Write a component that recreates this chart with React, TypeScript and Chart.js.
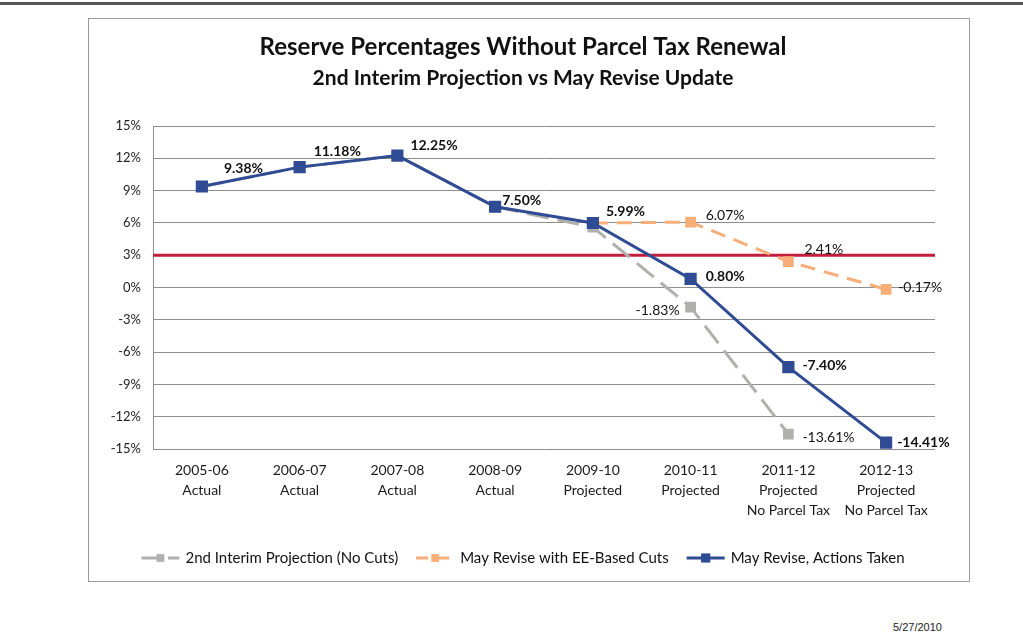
import React, { useEffect, useRef } from "react";
import { Chart, registerables } from "chart.js";

Chart.register(...registerables);

const categories: string[][] = [
  ["2005-06", "Actual"],
  ["2006-07", "Actual"],
  ["2007-08", "Actual"],
  ["2008-09", "Actual"],
  ["2009-10", "Projected"],
  ["2010-11", "Projected"],
  ["2011-12", "Projected", "No Parcel Tax"],
  ["2012-13", "Projected", "No Parcel Tax"],
];

const interimNoCuts: (number | null)[] = [9.38, 11.18, 12.25, 7.5, 5.6, -1.83, -13.61, null];
const eeBasedCuts: (number | null)[] = [null, null, null, null, 5.99, 6.07, 2.41, -0.17];
const actionsTaken: (number | null)[] = [9.38, 11.18, 12.25, 7.5, 5.99, 0.8, -7.4, -14.41];
const reserveTarget = 3;

const yMin = -15;
const yMax = 15;
const yStep = 3;

const titleText = "Reserve Percentages Without Parcel Tax Renewal";
const subtitleText = "2nd Interim Projection vs May Revise Update";
const seriesNames = [
  "2nd Interim Projection (No Cuts)",
  "May Revise with EE-Based Cuts",
  "May Revise, Actions Taken",
];
const dateText = "5/27/2010";

// which points carry a value label (style only)
const interimLabelIdx = [5, 6];
const eeLabelIdx = [5, 6, 7];
const actionsLabelIdx = [0, 1, 2, 3, 4, 5, 6, 7];

const FONT = "Lato, 'Open Sans', sans-serif";

const BLUE = "#2f4b93";
const ORANGE = "#f7ae79";
const GRAY = "#b0b0ae";
const RED = "#c21d3a";

export default function App() {
  const ref = useRef<HTMLCanvasElement | null>(null);

  useEffect(() => {
    document.body.style.margin = "0";
    const canvas = ref.current!;

    const labelsPlugin = {
      id: "customDraw",
      beforeDatasetsDraw(chart: any) {
        const { ctx, chartArea, scales } = chart;
        const y = scales.y.getPixelForValue(reserveTarget);
        ctx.save();
        ctx.strokeStyle = RED;
        ctx.lineWidth = 3;
        ctx.beginPath();
        ctx.moveTo(chartArea.left, y);
        ctx.lineTo(chartArea.right, y);
        ctx.stroke();
        ctx.restore();
      },
      afterDatasetsDraw(chart: any) {
        const { ctx } = chart;
        ctx.save();
        ctx.fillStyle = "#111";
        ctx.textBaseline = "middle";
        chart.data.datasets.forEach((ds: any, di: number) => {
          const meta = chart.getDatasetMeta(di);
          const idxs: number[] = ds.labelIdx || [];
          idxs.forEach((i: number, k: number) => {
            const v = ds.data[i];
            if (v == null) return;
            const pt = meta.data[i];
            const off = ds.labelOff[k];
            ctx.font = `${ds.labelBold ? "bold " : ""}14px ${FONT}`;
            ctx.textAlign = off[0] < 0 ? "right" : "left";
            ctx.fillText(v.toFixed(2) + "%", pt.x + off[0], pt.y + off[1]);
          });
        });
        ctx.restore();
      },
      afterDraw(chart: any) {
        const { ctx, width } = chart;
        ctx.save();
        ctx.fillStyle = "#111";
        ctx.textAlign = "center";
        ctx.textBaseline = "middle";
        const cx = width / 2 - 6;
        ctx.font = `bold 24px ${FONT}`;
        ctx.fillText(titleText, cx, 28);
        ctx.font = `bold 21px ${FONT}`;
        ctx.fillText(subtitleText, cx, 59);

        // legend
        ctx.font = `15px ${FONT}`;
        const items = chart.data.datasets.map((ds: any) => ds);
        const sampleW = 38;
        const gapAfterSample = 6;
        const gapBetween = 18;
        let total = 0;
        items.forEach((ds: any, i: number) => {
          total += sampleW + gapAfterSample + ctx.measureText(ds.label).width;
          if (i < items.length - 1) total += gapBetween;
        });
        let x = cx - total / 2;
        const ly = 539;
        items.forEach((ds: any) => {
          ctx.save();
          ctx.strokeStyle = ds.borderColor;
          ctx.lineWidth = ds.borderWidth;
          ctx.setLineDash(ds.borderDash && ds.borderDash.length ? [ds.borderDash[0] * 0.8, ds.borderDash[1]] : []);
          ctx.beginPath();
          ctx.moveTo(x, ly);
          ctx.lineTo(x + sampleW, ly);
          ctx.stroke();
          ctx.setLineDash([]);
          ctx.fillStyle = ds.pointBackgroundColor;
          const s = ds.pointRadius * Math.SQRT1_2;
          ctx.fillRect(x + sampleW / 2 - s, ly - s, 2 * s, 2 * s);
          ctx.restore();
          ctx.fillStyle = "#111";
          ctx.textAlign = "left";
          ctx.fillText(ds.label, x + sampleW + gapAfterSample, ly);
          x += sampleW + gapAfterSample + ctx.measureText(ds.label).width + gapBetween;
        });
        ctx.restore();
      },
    };

    const chart = new Chart(canvas, {
      type: "line",
      data: {
        labels: categories,
        datasets: [
          {
            label: seriesNames[0],
            data: interimNoCuts,
            borderColor: GRAY,
            backgroundColor: GRAY,
            pointBackgroundColor: GRAY,
            pointBorderColor: GRAY,
            borderWidth: 3,
            borderDash: [22, 9],
            pointStyle: "rect",
            pointRadius: 5.5,
            pointHoverRadius: 5.5,
            order: 3,
            labelIdx: interimLabelIdx,
            labelOff: [[-11, 3], [14, 3]],
            labelBold: false,
          } as any,
          {
            label: seriesNames[1],
            data: eeBasedCuts,
            borderColor: ORANGE,
            backgroundColor: ORANGE,
            pointBackgroundColor: ORANGE,
            pointBorderColor: ORANGE,
            borderWidth: 3,
            borderDash: [15, 9],
            pointStyle: "rect",
            pointRadius: 5.5,
            pointHoverRadius: 5.5,
            order: 2,
            labelIdx: eeLabelIdx,
            labelOff: [[15, -7], [16, -12], [12, -2]],
            labelBold: false,
          } as any,
          {
            label: seriesNames[2],
            data: actionsTaken,
            borderColor: BLUE,
            backgroundColor: BLUE,
            pointBackgroundColor: BLUE,
            pointBorderColor: BLUE,
            borderWidth: 3,
            pointStyle: "rect",
            pointRadius: 6.5,
            pointHoverRadius: 6.5,
            order: 1,
            labelIdx: actionsLabelIdx,
            labelOff: [[22, -18], [14, -16], [13, -10], [7, -6], [13, -12], [15, -2], [14, -2], [11, 0]],
            labelBold: true,
          } as any,
        ],
      },
      options: {
        responsive: false,
        animation: false,
        spanGaps: false,
        layout: { padding: { top: 107, right: 34, left: 0, bottom: 0 } },
        plugins: {
          legend: { display: false },
          title: { display: false },
          tooltip: { enabled: false },
        },
        scales: {
          x: {
            offset: true,
            grid: { display: false, drawTicks: false },
            border: { display: false },
            ticks: {
              color: "#1a1a1a",
              font: { family: FONT, size: 14, lineHeight: 1.4 },
              padding: 12,
              maxRotation: 0,
              autoSkip: false,
            },
            afterFit(scale: any) {
              scale.height = 132;
            },
          },
          y: {
            min: yMin,
            max: yMax,
            grid: { color: "#8e8e8e", lineWidth: 1, drawTicks: false },
            border: { display: true, color: "#8e8e8e" },
            ticks: {
              stepSize: yStep,
              color: "#222",
              font: { family: FONT, size: 13 },
              padding: 12,
              callback: (v: any) => v + "%",
            },
            afterFit(scale: any) {
              scale.width = 64;
            },
          },
        },
      },
      plugins: [labelsPlugin],
    });
    return () => chart.destroy();
  }, []);

  return (
    <div style={{ position: "relative", width: 1023, height: 637, background: "#fff", overflow: "hidden" }}>
      <div style={{ position: "absolute", left: 0, top: 2, width: 1023, height: 3, background: "#555" }} />
      <div
        style={{
          position: "absolute",
          left: 88,
          top: 18,
          width: 882,
          height: 564,
          border: "1px solid #9a9a9a",
          boxSizing: "border-box",
        }}
      >
        <canvas ref={ref} width={880} height={562} style={{ display: "block" }} />
      </div>
      <div
        style={{
          position: "absolute",
          left: 893,
          top: 621,
          fontFamily: "Arial, 'Liberation Sans', sans-serif",
          fontSize: 11,
          color: "#222",
        }}
      >
        {dateText}
      </div>
    </div>
  );
}
